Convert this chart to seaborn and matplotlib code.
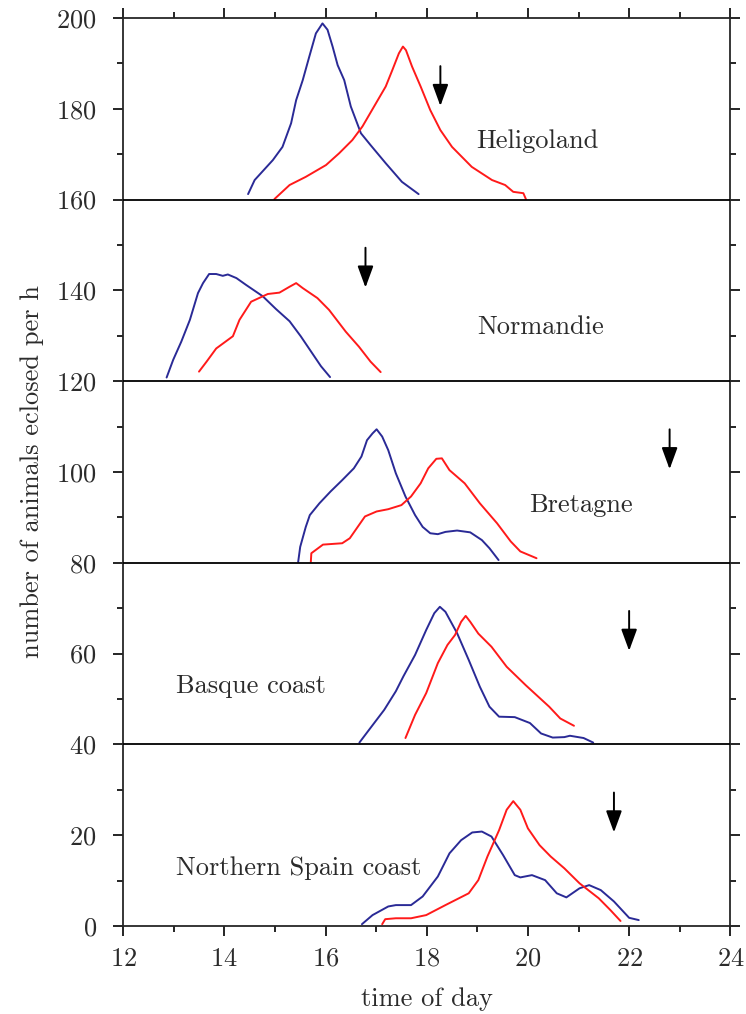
import numpy as np
import pandas as pd
import matplotlib
matplotlib.use("Agg")
import matplotlib.pyplot as plt
import seaborn as sns
from matplotlib.ticker import MultipleLocator

# stacked populations, each panel shifted by 40 units
regions = ['Heligoland', 'Normandie', 'Bretagne', 'Basque coast', 'Northern Spain coast']
baselines = [160, 120, 80, 40, 0]

# blue curves (values relative to panel baseline)
helig_blue_x = [14.47, 14.60, 14.96, 15.15, 15.32, 15.42, 15.55, 15.68, 15.81, 15.94, 16.04, 16.14,
                16.24, 16.37, 16.50, 16.70, 16.89, 17.19, 17.51, 17.84]
helig_blue_y = [1.2, 4.3, 8.7, 11.6, 16.8, 21.9, 26.3, 31.5, 36.6, 38.8, 37.4, 33.7,
                29.6, 26.3, 20.5, 14.6, 12.0, 8.0, 3.9, 1.2]
norm_blue_x = [12.86, 12.99, 13.15, 13.32, 13.48, 13.58, 13.70, 13.84, 13.97, 14.07, 14.24, 14.43,
               14.76, 15.02, 15.29, 15.51, 15.71, 15.91, 16.09]
norm_blue_y = [0.8, 4.7, 8.7, 13.5, 19.4, 21.6, 23.6, 23.6, 23.2, 23.5, 22.7, 21.2,
               18.7, 15.9, 13.2, 9.9, 6.6, 3.3, 0.9]
bret_blue_x = [15.46, 15.50, 15.61, 15.69, 15.88, 16.10, 16.33, 16.56, 16.71, 16.82, 16.93, 17.01,
               17.12, 17.24, 17.39, 17.58, 17.77, 17.92, 18.07, 18.22, 18.37, 18.60, 18.86, 19.09,
               19.24, 19.42]
bret_blue_y = [0.2, 3.5, 7.9, 10.5, 13.1, 15.7, 18.2, 20.8, 23.4, 27.0, 28.5, 29.4,
               27.8, 24.8, 19.7, 14.6, 10.5, 7.9, 6.5, 6.3, 6.8, 7.1, 6.7, 5.0,
               3.2, 0.6]
basq_blue_x = [16.67, 16.86, 17.16, 17.39, 17.54, 17.77, 17.99, 18.15, 18.26, 18.37, 18.60, 18.83,
               19.05, 19.24, 19.43, 19.74, 20.04, 20.26, 20.49, 20.72, 20.83, 21.10, 21.29]
basq_blue_y = [0.4, 3.2, 7.6, 11.7, 15.0, 19.7, 25.2, 28.9, 30.3, 29.2, 24.5, 18.6,
               12.7, 8.3, 6.1, 6.0, 4.7, 2.4, 1.5, 1.6, 1.9, 1.4, 0.4]
spain_blue_x = [16.72, 16.93, 17.24, 17.39, 17.69, 17.92, 18.22, 18.45, 18.68, 18.90, 19.09, 19.28,
                19.51, 19.74, 19.85, 20.08, 20.34, 20.57, 20.76, 21.02, 21.21, 21.44, 21.70, 22.00,
                22.19]
spain_blue_y = [0.4, 2.4, 4.3, 4.6, 4.6, 6.5, 10.9, 16.0, 18.9, 20.6, 20.8, 19.7,
                15.6, 11.2, 10.7, 11.2, 10.1, 7.2, 6.3, 8.3, 9.0, 7.9, 5.4, 1.8,
                1.3]

# red curves
helig_red_x = [14.99, 15.29, 15.61, 16.01, 16.27, 16.53, 16.73, 16.96, 17.19, 17.32, 17.45, 17.53,
               17.59, 17.71, 17.88, 18.07, 18.27, 18.50, 18.89, 19.29, 19.55, 19.71, 19.91, 19.96]
helig_red_y = [0.1, 3.2, 5.0, 7.6, 10.2, 13.1, 16.1, 20.5, 24.9, 28.5, 32.2, 33.7,
               32.9, 29.3, 24.9, 19.7, 15.3, 11.6, 7.2, 4.3, 3.2, 1.7, 1.4, 0.1]
norm_red_x = [13.50, 13.65, 13.84, 14.17, 14.30, 14.53, 14.86, 15.09, 15.29, 15.42, 15.55, 15.84,
              16.07, 16.40, 16.66, 16.89, 17.09]
norm_red_y = [2.1, 4.3, 7.2, 9.9, 13.5, 17.5, 19.2, 19.5, 20.8, 21.6, 20.5, 18.3,
              15.7, 10.9, 7.6, 4.3, 2.0]
bret_red_x = [15.71, 15.72, 15.95, 16.33, 16.48, 16.78, 17.01, 17.24, 17.50, 17.69, 17.88, 18.03,
              18.19, 18.30, 18.45, 18.75, 19.05, 19.39, 19.66, 19.85, 20.17]
bret_red_y = [0.2, 2.1, 4.0, 4.3, 5.4, 10.2, 11.3, 11.8, 12.7, 14.6, 17.5, 20.8,
              22.9, 23.0, 20.4, 17.5, 13.1, 8.7, 4.7, 2.5, 1.0]
basq_red_x = [17.58, 17.77, 17.99, 18.22, 18.41, 18.56, 18.68, 18.77, 18.86, 19.02, 19.28, 19.58,
              19.96, 20.42, 20.64, 20.91]
basq_red_y = [1.4, 6.5, 11.3, 17.9, 21.9, 24.1, 27.0, 28.3, 27.0, 24.4, 21.5, 17.1,
              13.0, 8.3, 5.7, 4.1]
spain_red_x = [17.12, 17.18, 17.39, 17.69, 17.99, 18.37, 18.83, 19.02, 19.20, 19.43, 19.58, 19.71,
               19.85, 20.00, 20.23, 20.45, 20.72, 21.02, 21.40, 21.63, 21.83]
spain_red_y = [0.4, 1.5, 1.7, 1.7, 2.4, 4.6, 7.2, 10.1, 15.3, 21.1, 25.6, 27.5,
               25.6, 21.5, 17.8, 15.3, 12.7, 9.4, 6.1, 3.5, 1.1]

# arrow marks (time of day) and label anchors per panel
arrow_x = [18.27, 16.79, 22.80, 22.00, 21.70]
label_x = [18.98, 18.99, 20.02, 13.04, 13.04]
label_y = [12.8, 11.9, 12.7, 12.9, 12.7]

blue_x = [helig_blue_x, norm_blue_x, bret_blue_x, basq_blue_x, spain_blue_x]
blue_y = [helig_blue_y, norm_blue_y, bret_blue_y, basq_blue_y, spain_blue_y]
red_x = [helig_red_x, norm_red_x, bret_red_x, basq_red_x, spain_red_x]
red_y = [helig_red_y, norm_red_y, bret_red_y, basq_red_y, spain_red_y]

sns.set_style('ticks')
plt.rcParams['font.family'] = 'serif'
plt.rcParams['font.serif'] = ['cmr10', 'DejaVu Serif']
plt.rcParams['mathtext.fontset'] = 'cm'
plt.rcParams['axes.formatter.use_mathtext'] = True

BLUE = '#2a2a96'
RED = '#ff1a1a'
TXT = '#2b2b2b'
FS = 19

fig = plt.figure(figsize=(7.46, 10.14), dpi=100)
ax = fig.add_axes([0.165, 0.0868, 0.814, 0.8955])

rows = []
for i, base in enumerate(baselines):
    for x, y in zip(blue_x[i], blue_y[i]):
        rows.append({'time': x, 'n': y + base, 'region': regions[i], 'series': 'blue'})
    for x, y in zip(red_x[i], red_y[i]):
        rows.append({'time': x, 'n': y + base, 'region': regions[i], 'series': 'red'})
df = pd.DataFrame(rows)

for reg in regions:
    sub = df[df.region == reg]
    sns.lineplot(data=sub[sub.series == 'blue'], x='time', y='n', color=BLUE, lw=1.4,
                 sort=False, estimator=None, ax=ax)
    sns.lineplot(data=sub[sub.series == 'red'], x='time', y='n', color=RED, lw=1.4,
                 sort=False, estimator=None, ax=ax)

for base in baselines[:-1]:
    ax.axhline(base, color='black', lw=1.3, zorder=3)

for i, base in enumerate(baselines):
    ax.annotate('', xy=(arrow_x[i], base + 20), xytext=(arrow_x[i], base + 30),
                arrowprops=dict(arrowstyle='-|>,head_length=0.6,head_width=0.22',
                                color='black', lw=1.4, mutation_scale=22))
    ax.text(label_x[i], base + label_y[i], regions[i], fontsize=FS, color=TXT,
            va='center', ha='left')

ax.set_xlim(12, 24)
ax.set_ylim(0, 200)
ax.xaxis.set_major_locator(MultipleLocator(2))
ax.xaxis.set_minor_locator(MultipleLocator(1))
ax.yaxis.set_major_locator(MultipleLocator(20))
ax.yaxis.set_minor_locator(MultipleLocator(10))
ax.tick_params(which='both', direction='out', top=True, right=True, labelsize=FS, width=1.2,
               colors='black', labelcolor=TXT)
ax.tick_params(axis='x', which='major', pad=8)
ax.tick_params(axis='y', which='major', pad=12)
ax.tick_params(which='major', length=7)
ax.tick_params(which='minor', length=4)
for s in ax.spines.values():
    s.set_linewidth(1.3)
    s.set_visible(True)

ax.set_xlabel('time of day', fontsize=FS, color=TXT, labelpad=12)
ax.set_ylabel('number of animals eclosed per h', fontsize=FS, color=TXT, labelpad=9)

fig.savefig('out.png', dpi=100)
